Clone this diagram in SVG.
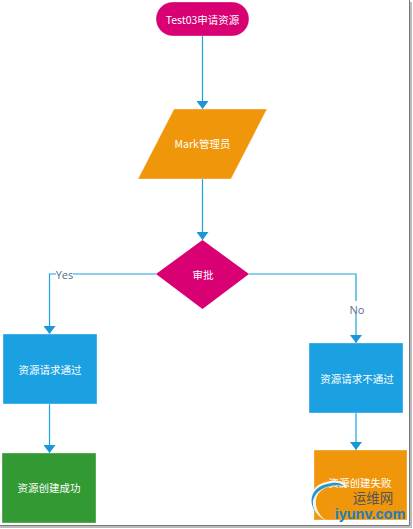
<svg xmlns="http://www.w3.org/2000/svg" width="413" height="529" viewBox="0 0 413 529">
<defs>
<style>
.e{fill:none;stroke:#1ba1e2;stroke-width:1.2}
.n{stroke:#fff;stroke-opacity:.35;stroke-width:1}
text{font-family:"Noto Sans CJK SC","Liberation Sans",sans-serif;font-size:10.500px;text-anchor:middle;dominant-baseline:central}
.w{fill:#fff}
.l{fill:#4f6f8f;font-size:11px;font-family:"Open Sans","Noto Sans",sans-serif}
</style>
<marker id="b" markerUnits="userSpaceOnUse" markerWidth="10" markerHeight="12" refX="9" refY="6" orient="auto" viewBox="0 0 10 12"><path d="M1 0L9 6L1 12Z" fill="#1b96d8"/></marker>
</defs>
<rect width="413" height="529" fill="#fff"/>
<g id="frame">
<path d="M409.500 0V525.500H0" fill="none" stroke="#777" stroke-width="1"/>
<path d="M411 2V527H0" fill="none" stroke="#bbb" stroke-width="2"/>
</g>
<g id="connectors">
<path class="e" d="M202.500 36V109" marker-end="url(#b)"/>
<path class="e" d="M202.500 179V240" marker-end="url(#b)"/>
<path class="e" d="M156 274H49.500V334" marker-end="url(#b)"/>
<path class="e" d="M249 274H356V343" marker-end="url(#b)"/>
<path class="e" d="M49.500 404V453" marker-end="url(#b)"/>
<path class="e" d="M356 413V450" marker-end="url(#b)"/>
</g>
<g id="n1"><rect class="n" x="156" y="2" width="93" height="34" rx="17" fill="#d80073"/><text class="w" x="202.500" y="19">Test03申请资源</text></g>
<g id="n2"><polygon class="n" points="174,109 267,109 231,179 138,179" fill="#f0960a"/><text class="w" x="202.500" y="143">Mark管理员</text></g>
<g id="n3"><polygon points="156,274 202.500,240 249,274 202.500,309" fill="#d80073"/><text class="w" x="203" y="274">审批</text></g>
<g id="n4"><rect class="n" x="3" y="334" width="94" height="70" fill="#1ba1e2"/><text class="w" x="50" y="369">资源请求通过</text></g>
<g id="n5"><rect class="n" x="309" y="343" width="94" height="70" fill="#1ba1e2"/><text class="w" x="357" y="378">资源请求不通过</text></g>
<g id="n6"><rect class="n" x="2" y="453" width="94" height="70" fill="#339933"/><text class="w" x="49" y="487">资源创建成功</text></g>
<g id="n7"><rect class="n" x="314" y="450" width="93" height="70" fill="#f0960a"/><text class="w" x="360" y="482">资源创建失败</text></g>
<g id="labels">
<rect x="56" y="268" width="17" height="12" fill="#fff"/><text class="l" x="64.500" y="274">Yes</text>
<rect x="349" y="301" width="15" height="13" fill="#fff"/><text class="l" x="357" y="309">No</text>
</g>
<g id="watermark">
<path d="M327 521C305 511 304 483 332 481C342 480 346 484 347 488C336 483 318 486 316 500C315 510 321 517 327 521Z" fill="#fff" fill-opacity=".85"/>
<path d="M325 520C306 510 306 486 332 483C338 482 342 484 344 486C332 483 315 488 313 501C312 510 318 516 325 520Z" fill="#1b96d8"/>
<text x="373" y="497" style="font-size:13.500px;fill:#555">运维网</text>
<text x="370" y="514" style="font-family:'Liberation Sans',sans-serif;font-size:14.500px;font-weight:700;fill:#1b7fc4">iyunv.com</text>
</g>
</svg>
